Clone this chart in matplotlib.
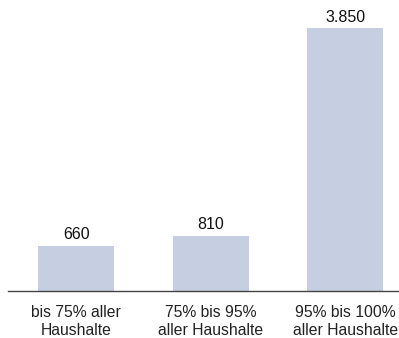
import matplotlib
matplotlib.use("Agg")
import matplotlib.pyplot as plt

categories = ["bis 75% aller\nHaushalte", "75% bis 95%\naller Haushalte", "95% bis 100%\naller Haushalte"]
values = [660, 810, 3850]
value_labels = ["660", "810", "3.850"]

plt.rcParams["font.family"] = ["Liberation Sans", "DejaVu Sans"]

fig = plt.figure(figsize=(3.99, 3.38), dpi=100)
ax = fig.add_axes([8 / 399, 47 / 338, 391 / 399, 291 / 338])

x = list(range(len(values)))
bars = ax.bar(x, values, width=0.565, color="#c5cfe1")

for rect, lab in zip(bars, value_labels):
    ax.annotate(lab, (rect.get_x() + rect.get_width() / 2, rect.get_height()),
                xytext=(0, 2.5), textcoords="offset points",
                ha="center", va="bottom", fontsize=11.5, color="#111111")

ax.set_xlim(-0.506, 2.40)
ax.set_ylim(0, 3850 * 291 / 263)
ax.set_xticks(x)
ax.set_xticklabels(categories, fontsize=11.3, color="#222222", linespacing=1.3)
ax.tick_params(axis="x", length=0, pad=10)
ax.set_yticks([])

for side in ["top", "right", "left"]:
    ax.spines[side].set_visible(False)
ax.spines["bottom"].set_color("#444444")
ax.spines["bottom"].set_linewidth(1.0)

fig.savefig("out.png", dpi=100)
